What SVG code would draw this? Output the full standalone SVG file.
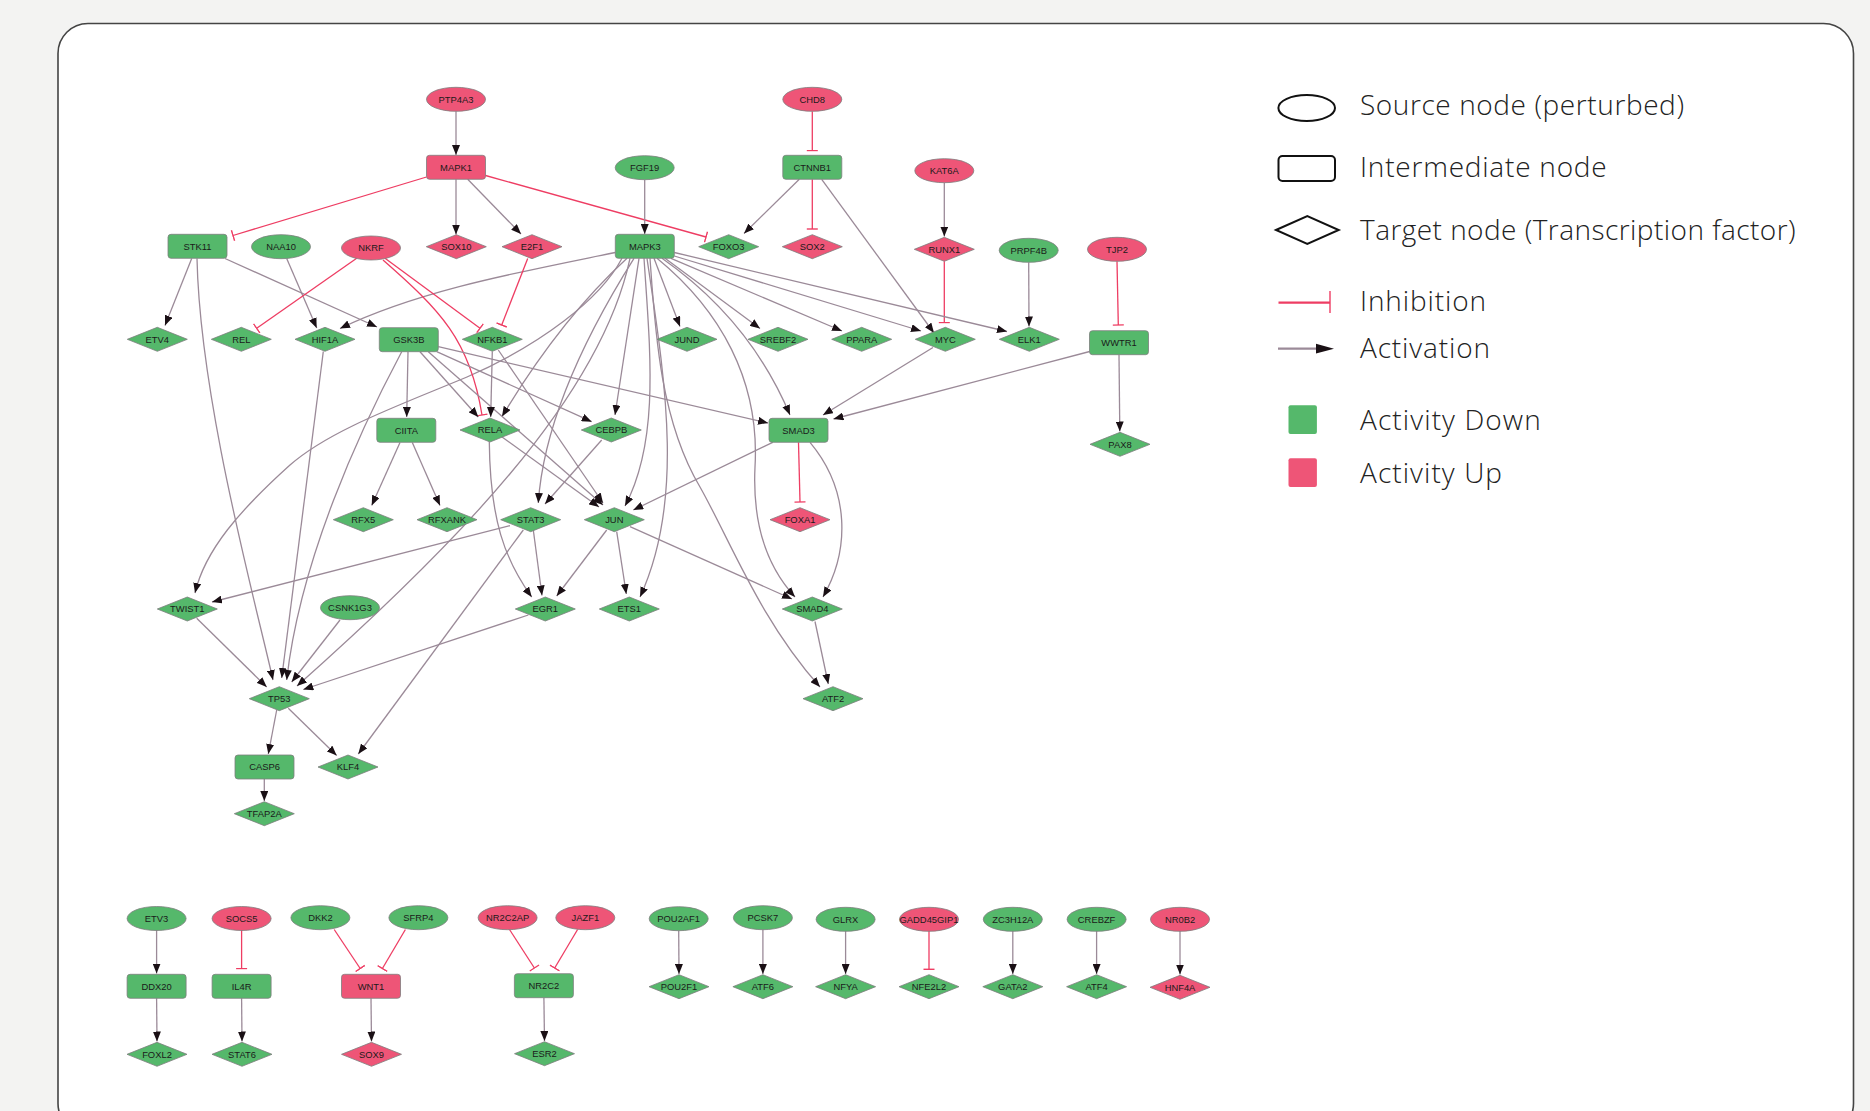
<svg xmlns="http://www.w3.org/2000/svg" xmlns:xlink="http://www.w3.org/1999/xlink" width="1870" height="1111" viewBox="0 0 1870 1111">
<style>
.bg{fill:#f3f3f2}
.frame{fill:#fff;stroke:#444;stroke-width:1.6}
.g{fill:#55b86b;stroke:#7d7d7d;stroke-width:0.8}
.r{fill:#ee5577;stroke:#7d7d7d;stroke-width:0.8}
.lbl{font-family:"Liberation Sans",Arial,sans-serif;font-size:9.4px;text-anchor:middle;fill:#1a1a1a}
.a{fill:none;stroke:#9b8a98;stroke-width:1.3;marker-end:url(#arr)}
.i{fill:none;stroke:#ee3d63;stroke-width:1.3;marker-end:url(#bar)}
.leg{font-family:"Open Sans",Lato,sans-serif;font-weight:300;font-size:28px;fill:#222}
</style>
<defs>
<marker id="arr" viewBox="0 0 10 8" refX="10" refY="4" markerWidth="10" markerHeight="8" markerUnits="userSpaceOnUse" orient="auto"><path d="M0,0 L10,4 L0,8 z" fill="#1a1015"/></marker>
<marker id="bar" viewBox="0 -6 2 12" refX="1" refY="0" markerWidth="2" markerHeight="12" markerUnits="userSpaceOnUse" orient="auto"><path d="M1,-5.5 L1,5.5" stroke="#ee3d63" stroke-width="1.4"/></marker>
<ellipse id="ell" cx="0" cy="0" rx="29.5" ry="12"/>
<rect id="box" x="-29.5" y="-12" width="59" height="24" rx="3"/>
<path id="dia" d="M-30,0 L0,-12 L30,0 L0,12 Z"/>
</defs>
<rect class="bg" x="0" y="0" width="1870" height="1111"/>
<rect class="frame" x="58" y="23.5" width="1795.5" height="1110" rx="30"/>

<g id="edges">
<path class="a" d="M456,111.3 L456,155"/>
<path class="i" d="M426.5,177 L233,235.5"/>
<path class="a" d="M456,179.3 L456,234.5"/>
<path class="a" d="M467.7,179.3 L521,234"/>
<path class="i" d="M485.5,175.5 L706,237"/>
<path class="a" d="M644.7,179.7 L644.7,234"/>
<path class="i" d="M812.3,111.3 L812.3,150.5"/>
<path class="a" d="M799.3,179.3 L744,233.5"/>
<path class="i" d="M812.3,179.3 L812.3,229"/>
<path class="a" d="M821.7,179.3 L934,333"/>
<path class="a" d="M944.3,182.7 L944.3,236.5"/>
<path class="i" d="M944.3,261.3 L944.3,322.5"/>
<path class="a" d="M1028.7,262.3 L1029,326.5"/>
<path class="i" d="M1117,261.3 L1118.3,325"/>
<path class="a" d="M1119,354.7 L1119.8,431.5"/>
<path class="a" d="M1089.7,351.5 L833.5,419"/>
<path class="a" d="M933,347.5 L823,415"/>
<path class="a" d="M674.3,252.5 L1007,331.5"/>
<path class="a" d="M674.3,256 L921,331"/>
<path class="a" d="M671,258.3 L842,331"/>
<path class="a" d="M665,258.3 L760,328.5"/>
<path class="a" d="M654,258.3 L680,326.5"/>
<path class="a" d="M615.3,252.5 C520,272 420,290 340,328.5"/>
<path class="a" d="M662,258.3 Q750,320 790,415"/>
<path class="a" d="M657,258.3 C720,310 760,380 755,467 C752,530 770,570 795,597"/>
<path class="a" d="M650,258.3 C655,330 660,420 700,487 C730,540 760,620 820,687"/>
<path class="a" d="M647,258.3 C665,380 685,500 640,597"/>
<path class="a" d="M644,258.3 C650,350 660,440 625,506"/>
<path class="a" d="M639,258.3 L615,415"/>
<path class="a" d="M634,258.3 Q545,400 538.3,503"/>
<path class="a" d="M627,258.3 Q560,320 502,416.5"/>
<path class="a" d="M630,258.3 C600,400 450,550 297,686"/>
<path class="a" d="M622,258.3 C600,300 540,345 467,377 C400,405 330,430 290,465 C240,510 205,550 195,593"/>
<path class="a" d="M191.7,258.5 L165,325.5"/>
<path class="a" d="M225,258.5 L377,327"/>
<path class="a" d="M197,258.5 C200,400 255,600 273,680"/>
<path class="a" d="M286.7,258.5 L316.7,328"/>
<path class="i" d="M356.7,258.3 L256.7,328.3"/>
<path class="i" d="M385,258.3 L480,328.3"/>
<path class="i" d="M383,260 C440,310 470,340 482,415"/>
<path class="i" d="M527.7,258.5 L501.7,325"/>
<path class="a" d="M323.3,351.5 L281.7,678"/>
<path class="a" d="M401.7,351.7 C360,430 300,560 286.7,680"/>
<path class="a" d="M408,351.7 L406.7,417"/>
<path class="a" d="M420,351.7 L478.3,417"/>
<path class="a" d="M436.7,351.7 L591.7,421.7"/>
<path class="a" d="M438.3,346.7 L768,423"/>
<path class="a" d="M428.3,351.7 L603,505"/>
<path class="a" d="M492.3,351.5 L490.7,417"/>
<path class="a" d="M498.3,350 L603,503"/>
<path class="a" d="M501.7,436.7 L599,507"/>
<path class="a" d="M489.3,441.7 C490,520 505,560 531.7,597"/>
<path class="a" d="M601.7,440 L545,504"/>
<path class="a" d="M400,442.5 L371.7,505.5"/>
<path class="a" d="M412.3,442.5 L440,505.5"/>
<path class="a" d="M510,525.7 L212,602"/>
<path class="a" d="M533.3,530 L542,595.5"/>
<path class="a" d="M523.3,530 L358.3,754"/>
<path class="a" d="M606.7,530 L556.7,596"/>
<path class="a" d="M616.7,531.7 L626.3,594"/>
<path class="a" d="M630,526.7 L792,599"/>
<path class="a" d="M772.7,442.3 L633.3,510"/>
<path class="i" d="M798.5,442.3 L800,502"/>
<path class="a" d="M810,442.3 C850,490 850,550 823,597"/>
<path class="a" d="M815,621.5 L828.3,684"/>
<path class="a" d="M196.7,618.3 L266.7,687"/>
<path class="a" d="M340,620 L291.7,682"/>
<path class="a" d="M528.3,615 L303.3,689.5"/>
<path class="a" d="M276.7,710 L268.3,754"/>
<path class="a" d="M288.3,708.3 L336.7,755.5"/>
<path class="a" d="M264.3,779 L264.3,801"/>
<path class="a" d="M156.6,930 L156.6,973.5"/>
<path class="a" d="M156.6,998.3 L157,1041.5"/>
<path class="i" d="M241.6,930 L241.6,968.5"/>
<path class="a" d="M241.6,998.3 L242,1041.5"/>
<path class="i" d="M334.2,929.5 L360.2,968.5"/>
<path class="i" d="M405.4,929.5 L382.4,968.5"/>
<path class="a" d="M371,998.3 L371.5,1041.5"/>
<path class="i" d="M509.5,929.5 L534.4,968"/>
<path class="i" d="M577.6,929.5 L554.7,968"/>
<path class="a" d="M543.9,997.7 L544.5,1041"/>
<path class="a" d="M678.7,930.5 L679,974"/>
<path class="a" d="M762.9,929.5 L762.9,974"/>
<path class="a" d="M845.6,931 L845.6,974"/>
<path class="i" d="M929,931 L929,969.3"/>
<path class="a" d="M1012.8,931 L1012.8,974"/>
<path class="a" d="M1096.6,931 L1096.6,974"/>
<path class="a" d="M1180,931 L1180,974.5"/>
</g>

<g id="node-PTP4A3"><use href="#ell" x="456" y="99.3" class="r"/><text class="lbl" x="456" y="102.7">PTP4A3</text></g>
<g id="node-MAPK1"><use href="#box" x="456" y="167.3" class="r"/><text class="lbl" x="456" y="170.7">MAPK1</text></g>
<g id="node-FGF19"><use href="#ell" x="644.7" y="167.7" class="g"/><text class="lbl" x="644.7" y="171.1">FGF19</text></g>
<g id="node-CHD8"><use href="#ell" x="812.3" y="99.3" class="r"/><text class="lbl" x="812.3" y="102.7">CHD8</text></g>
<g id="node-CTNNB1"><use href="#box" x="812.3" y="167.3" class="g"/><text class="lbl" x="812.3" y="170.7">CTNNB1</text></g>
<g id="node-KAT6A"><use href="#ell" x="944.3" y="170.7" class="r"/><text class="lbl" x="944.3" y="174.1">KAT6A</text></g>
<g id="node-STK11"><use href="#box" x="197.5" y="246.3" class="g"/><text class="lbl" x="197.5" y="249.7">STK11</text></g>
<g id="node-NAA10"><use href="#ell" x="281" y="246.7" class="g"/><text class="lbl" x="281" y="250.1">NAA10</text></g>
<g id="node-NKRF"><use href="#ell" x="371" y="248" class="r"/><text class="lbl" x="371" y="251.4">NKRF</text></g>
<g id="node-SOX10"><use href="#dia" x="456.3" y="246.7" class="r"/><text class="lbl" x="456.3" y="250.1">SOX10</text></g>
<g id="node-E2F1"><use href="#dia" x="532" y="246.7" class="r"/><text class="lbl" x="532" y="250.1">E2F1</text></g>
<g id="node-MAPK3"><use href="#box" x="644.8" y="246.3" class="g"/><text class="lbl" x="644.8" y="249.7">MAPK3</text></g>
<g id="node-FOXO3"><use href="#dia" x="728.7" y="246.7" class="g"/><text class="lbl" x="728.7" y="250.1">FOXO3</text></g>
<g id="node-SOX2"><use href="#dia" x="812.3" y="246.7" class="r"/><text class="lbl" x="812.3" y="250.1">SOX2</text></g>
<g id="node-RUNX1"><use href="#dia" x="944.3" y="249.3" class="r"/><text class="lbl" x="944.3" y="252.7">RUNX1</text></g>
<g id="node-PRPF4B"><use href="#ell" x="1028.7" y="250.3" class="g"/><text class="lbl" x="1028.7" y="253.7">PRPF4B</text></g>
<g id="node-TJP2"><use href="#ell" x="1117" y="249.3" class="r"/><text class="lbl" x="1117" y="252.7">TJP2</text></g>
<g id="node-ETV4"><use href="#dia" x="157.3" y="339.3" class="g"/><text class="lbl" x="157.3" y="342.7">ETV4</text></g>
<g id="node-REL"><use href="#dia" x="241.3" y="339.3" class="g"/><text class="lbl" x="241.3" y="342.7">REL</text></g>
<g id="node-HIF1A"><use href="#dia" x="325" y="339.3" class="g"/><text class="lbl" x="325" y="342.7">HIF1A</text></g>
<g id="node-GSK3B"><use href="#box" x="408.8" y="339.7" class="g"/><text class="lbl" x="408.8" y="343.1">GSK3B</text></g>
<g id="node-NFKB1"><use href="#dia" x="492.3" y="339.3" class="g"/><text class="lbl" x="492.3" y="342.7">NFKB1</text></g>
<g id="node-JUND"><use href="#dia" x="687" y="339.3" class="g"/><text class="lbl" x="687" y="342.7">JUND</text></g>
<g id="node-SREBF2"><use href="#dia" x="778" y="339.3" class="g"/><text class="lbl" x="778" y="342.7">SREBF2</text></g>
<g id="node-PPARA"><use href="#dia" x="861.7" y="339.3" class="g"/><text class="lbl" x="861.7" y="342.7">PPARA</text></g>
<g id="node-MYC"><use href="#dia" x="945.3" y="339.3" class="g"/><text class="lbl" x="945.3" y="342.7">MYC</text></g>
<g id="node-ELK1"><use href="#dia" x="1029.3" y="339.3" class="g"/><text class="lbl" x="1029.3" y="342.7">ELK1</text></g>
<g id="node-WWTR1"><use href="#box" x="1119" y="342.7" class="g"/><text class="lbl" x="1119" y="346.1">WWTR1</text></g>
<g id="node-CIITA"><use href="#box" x="406.3" y="430.3" class="g"/><text class="lbl" x="406.3" y="433.7">CIITA</text></g>
<g id="node-RELA"><use href="#dia" x="490" y="430" class="g"/><text class="lbl" x="490" y="433.4">RELA</text></g>
<g id="node-CEBPB"><use href="#dia" x="611.3" y="430" class="g"/><text class="lbl" x="611.3" y="433.4">CEBPB</text></g>
<g id="node-SMAD3"><use href="#box" x="798.5" y="430.3" class="g"/><text class="lbl" x="798.5" y="433.7">SMAD3</text></g>
<g id="node-PAX8"><use href="#dia" x="1120" y="444.3" class="g"/><text class="lbl" x="1120" y="447.7">PAX8</text></g>
<g id="node-RFX5"><use href="#dia" x="363.3" y="519.7" class="g"/><text class="lbl" x="363.3" y="523.1">RFX5</text></g>
<g id="node-RFXANK"><use href="#dia" x="447" y="519.7" class="g"/><text class="lbl" x="447" y="523.1">RFXANK</text></g>
<g id="node-STAT3"><use href="#dia" x="530.7" y="519.7" class="g"/><text class="lbl" x="530.7" y="523.1">STAT3</text></g>
<g id="node-JUN"><use href="#dia" x="614.3" y="519.7" class="g"/><text class="lbl" x="614.3" y="523.1">JUN</text></g>
<g id="node-FOXA1"><use href="#dia" x="800" y="519.7" class="r"/><text class="lbl" x="800" y="523.1">FOXA1</text></g>
<g id="node-TWIST1"><use href="#dia" x="187.3" y="609" class="g"/><text class="lbl" x="187.3" y="612.4">TWIST1</text></g>
<g id="node-CSNK1G3"><use href="#ell" x="350" y="607.7" class="g"/><text class="lbl" x="350" y="611.1">CSNK1G3</text></g>
<g id="node-EGR1"><use href="#dia" x="545.3" y="609" class="g"/><text class="lbl" x="545.3" y="612.4">EGR1</text></g>
<g id="node-ETS1"><use href="#dia" x="629.3" y="609" class="g"/><text class="lbl" x="629.3" y="612.4">ETS1</text></g>
<g id="node-SMAD4"><use href="#dia" x="812.3" y="609" class="g"/><text class="lbl" x="812.3" y="612.4">SMAD4</text></g>
<g id="node-TP53"><use href="#dia" x="279.3" y="698.7" class="g"/><text class="lbl" x="279.3" y="702.1">TP53</text></g>
<g id="node-ATF2"><use href="#dia" x="833" y="698.7" class="g"/><text class="lbl" x="833" y="702.1">ATF2</text></g>
<g id="node-CASP6"><use href="#box" x="264.5" y="767" class="g"/><text class="lbl" x="264.5" y="770.4">CASP6</text></g>
<g id="node-KLF4"><use href="#dia" x="348" y="767" class="g"/><text class="lbl" x="348" y="770.4">KLF4</text></g>
<g id="node-TFAP2A"><use href="#dia" x="264.3" y="813.7" class="g"/><text class="lbl" x="264.3" y="817.1">TFAP2A</text></g>

<g id="node-ETV3"><use href="#ell" x="156.6" y="918.5" class="g"/><text class="lbl" x="156.6" y="921.9">ETV3</text></g>
<g id="node-DDX20"><use href="#box" x="156.6" y="986.3" class="g"/><text class="lbl" x="156.6" y="989.7">DDX20</text></g>
<g id="node-FOXL2"><use href="#dia" x="157" y="1054.3" class="g"/><text class="lbl" x="157" y="1057.7">FOXL2</text></g>
<g id="node-SOCS5"><use href="#ell" x="241.6" y="918.5" class="r"/><text class="lbl" x="241.6" y="921.9">SOCS5</text></g>
<g id="node-IL4R"><use href="#box" x="241.6" y="986.3" class="g"/><text class="lbl" x="241.6" y="989.7">IL4R</text></g>
<g id="node-STAT6"><use href="#dia" x="242" y="1054.3" class="g"/><text class="lbl" x="242" y="1057.7">STAT6</text></g>
<g id="node-DKK2"><use href="#ell" x="320.4" y="917.7" class="g"/><text class="lbl" x="320.4" y="921.1">DKK2</text></g>
<g id="node-SFRP4"><use href="#ell" x="418.4" y="917.7" class="g"/><text class="lbl" x="418.4" y="921.1">SFRP4</text></g>
<g id="node-WNT1"><use href="#box" x="371" y="986.3" class="r"/><text class="lbl" x="371" y="989.7">WNT1</text></g>
<g id="node-SOX9"><use href="#dia" x="371.5" y="1054.3" class="r"/><text class="lbl" x="371.5" y="1057.7">SOX9</text></g>
<g id="node-NR2C2AP"><use href="#ell" x="507.6" y="917.7" class="r"/><text class="lbl" x="507.6" y="921.1">NR2C2AP</text></g>
<g id="node-JAZF1"><use href="#ell" x="585.3" y="917.7" class="r"/><text class="lbl" x="585.3" y="921.1">JAZF1</text></g>
<g id="node-NR2C2"><use href="#box" x="543.9" y="985.7" class="g"/><text class="lbl" x="543.9" y="989.1">NR2C2</text></g>
<g id="node-ESR2"><use href="#dia" x="544.5" y="1053.7" class="g"/><text class="lbl" x="544.5" y="1057.1">ESR2</text></g>
<g id="node-POU2AF1"><use href="#ell" x="678.7" y="918.7" class="g"/><text class="lbl" x="678.7" y="922.1">POU2AF1</text></g>
<g id="node-POU2F1"><use href="#dia" x="679" y="986.7" class="g"/><text class="lbl" x="679" y="990.1">POU2F1</text></g>
<g id="node-PCSK7"><use href="#ell" x="762.9" y="917.7" class="g"/><text class="lbl" x="762.9" y="921.1">PCSK7</text></g>
<g id="node-ATF6"><use href="#dia" x="762.9" y="986.7" class="g"/><text class="lbl" x="762.9" y="990.1">ATF6</text></g>
<g id="node-GLRX"><use href="#ell" x="845.6" y="919.3" class="g"/><text class="lbl" x="845.6" y="922.7">GLRX</text></g>
<g id="node-NFYA"><use href="#dia" x="845.6" y="986.7" class="g"/><text class="lbl" x="845.6" y="990.1">NFYA</text></g>
<g id="node-GADD45GIP1"><use href="#ell" x="929" y="919.3" class="r"/><text class="lbl" x="929" y="922.7">GADD45GIP1</text></g>
<g id="node-NFE2L2"><use href="#dia" x="929" y="986.7" class="g"/><text class="lbl" x="929" y="990.1">NFE2L2</text></g>
<g id="node-ZC3H12A"><use href="#ell" x="1012.8" y="919.3" class="g"/><text class="lbl" x="1012.8" y="922.7">ZC3H12A</text></g>
<g id="node-GATA2"><use href="#dia" x="1012.8" y="986.7" class="g"/><text class="lbl" x="1012.8" y="990.1">GATA2</text></g>
<g id="node-CREBZF"><use href="#ell" x="1096.6" y="919.3" class="g"/><text class="lbl" x="1096.6" y="922.7">CREBZF</text></g>
<g id="node-ATF4"><use href="#dia" x="1096.6" y="986.7" class="g"/><text class="lbl" x="1096.6" y="990.1">ATF4</text></g>
<g id="node-NR0B2"><use href="#ell" x="1180" y="919.3" class="r"/><text class="lbl" x="1180" y="922.7">NR0B2</text></g>
<g id="node-HNF4A"><use href="#dia" x="1180" y="987.3" class="r"/><text class="lbl" x="1180" y="990.7">HNF4A</text></g>

<g id="legend">
<ellipse cx="1306.7" cy="108" rx="28.3" ry="13" fill="none" stroke="#111" stroke-width="2"/>
<text class="leg" x="1360" y="114.5" textLength="324">Source node (perturbed)</text>
<rect x="1278.5" y="156" width="56.5" height="25" rx="4" fill="none" stroke="#111" stroke-width="2"/>
<text class="leg" x="1360" y="176.5" textLength="246.7">Intermediate node</text>
<polygon points="1276,230 1307.3,216 1338.7,230 1307.3,244" fill="none" stroke="#111" stroke-width="2"/>
<text class="leg" x="1360" y="239.8" textLength="435.7">Target node (Transcription factor)</text>
<line x1="1278.5" y1="302.7" x2="1330" y2="302.7" stroke="#ee3d63" stroke-width="2.2"/>
<line x1="1330" y1="291" x2="1330" y2="313" stroke="#ee3d63" stroke-width="1.4"/>
<text class="leg" x="1360" y="310.5" textLength="126">Inhibition</text>
<line x1="1278" y1="348.7" x2="1318" y2="348.7" stroke="#9b8a98" stroke-width="2.2"/>
<polygon points="1316,343.8 1334,348.7 1316,353.6" fill="#1a1015"/>
<text class="leg" x="1360" y="358.2" textLength="130">Activation</text>
<rect x="1288.5" y="405.3" width="28.4" height="28.7" rx="2" fill="#55b86b"/>
<text class="leg" x="1360" y="429.5" textLength="180.7">Activity Down</text>
<rect x="1288.5" y="458.3" width="28.4" height="28.7" rx="2" fill="#ee5577"/>
<text class="leg" x="1360" y="483.2" textLength="142">Activity Up</text>
</g>
</svg>
